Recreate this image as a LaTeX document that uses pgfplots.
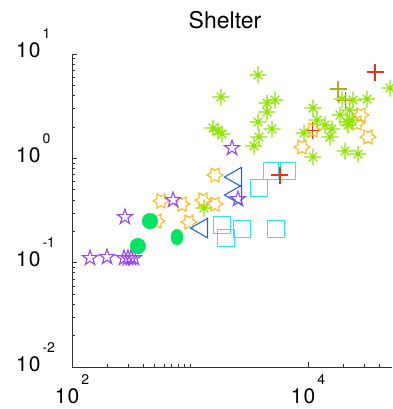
\documentclass[border=0pt]{standalone}
\usepackage{fontspec}
\setmainfont{TeX Gyre Heros}
\usepackage{pgfplots}
\pgfplotsset{compat=1.18}

\definecolor{cPurple}{RGB}{150,70,255}
\definecolor{cGreen}{RGB}{0,230,100}
\definecolor{cOrange}{RGB}{255,185,25}
\definecolor{cBlue}{RGB}{25,100,255}
\definecolor{cCyan}{RGB}{45,230,245}
\definecolor{cLime}{RGB}{140,230,0}
\definecolor{cRed}{RGB}{245,45,20}
\definecolor{cOlive}{RGB}{180,170,30}

% open five-pointed star
\pgfdeclareplotmark{pentagram}{%
  \pgfpathmoveto{\pgfpointpolar{90}{\pgfplotmarksize}}%
  \pgfpathlineto{\pgfpointpolar{126}{0.382\pgfplotmarksize}}%
  \pgfpathlineto{\pgfpointpolar{162}{\pgfplotmarksize}}%
  \pgfpathlineto{\pgfpointpolar{198}{0.382\pgfplotmarksize}}%
  \pgfpathlineto{\pgfpointpolar{234}{\pgfplotmarksize}}%
  \pgfpathlineto{\pgfpointpolar{270}{0.382\pgfplotmarksize}}%
  \pgfpathlineto{\pgfpointpolar{306}{\pgfplotmarksize}}%
  \pgfpathlineto{\pgfpointpolar{342}{0.382\pgfplotmarksize}}%
  \pgfpathlineto{\pgfpointpolar{18}{\pgfplotmarksize}}%
  \pgfpathlineto{\pgfpointpolar{54}{0.382\pgfplotmarksize}}%
  \pgfpathclose\pgfusepathqstroke}
% open six-pointed star
\pgfdeclareplotmark{hexagram}{%
  \pgfpathmoveto{\pgfpointpolar{0}{\pgfplotmarksize}}%
  \pgfpathlineto{\pgfpointpolar{30}{0.577\pgfplotmarksize}}%
  \pgfpathlineto{\pgfpointpolar{60}{\pgfplotmarksize}}%
  \pgfpathlineto{\pgfpointpolar{90}{0.577\pgfplotmarksize}}%
  \pgfpathlineto{\pgfpointpolar{120}{\pgfplotmarksize}}%
  \pgfpathlineto{\pgfpointpolar{150}{0.577\pgfplotmarksize}}%
  \pgfpathlineto{\pgfpointpolar{180}{\pgfplotmarksize}}%
  \pgfpathlineto{\pgfpointpolar{210}{0.577\pgfplotmarksize}}%
  \pgfpathlineto{\pgfpointpolar{240}{\pgfplotmarksize}}%
  \pgfpathlineto{\pgfpointpolar{270}{0.577\pgfplotmarksize}}%
  \pgfpathlineto{\pgfpointpolar{300}{\pgfplotmarksize}}%
  \pgfpathlineto{\pgfpointpolar{330}{0.577\pgfplotmarksize}}%
  \pgfpathclose\pgfusepathqstroke}
% eight-ray asterisk
\pgfdeclareplotmark{star8}{%
  \pgfpathmoveto{\pgfqpoint{-\pgfplotmarksize}{0pt}}\pgfpathlineto{\pgfqpoint{\pgfplotmarksize}{0pt}}%
  \pgfpathmoveto{\pgfqpoint{0pt}{-\pgfplotmarksize}}\pgfpathlineto{\pgfqpoint{0pt}{\pgfplotmarksize}}%
  \pgfpathmoveto{\pgfpointpolar{45}{0.72\pgfplotmarksize}}\pgfpathlineto{\pgfpointpolar{225}{0.72\pgfplotmarksize}}%
  \pgfpathmoveto{\pgfpointpolar{135}{0.72\pgfplotmarksize}}\pgfpathlineto{\pgfpointpolar{315}{0.72\pgfplotmarksize}}%
  \pgfusepathqstroke}
% open triangle pointing left
\pgfdeclareplotmark{tleft}{%
  \pgfpathmoveto{\pgfqpoint{-\pgfplotmarksize}{0pt}}%
  \pgfpathlineto{\pgfqpoint{\pgfplotmarksize}{1.14\pgfplotmarksize}}%
  \pgfpathlineto{\pgfqpoint{\pgfplotmarksize}{-1.14\pgfplotmarksize}}%
  \pgfpathclose\pgfusepathqstroke}
% open square
\pgfdeclareplotmark{box}{%
  \pgfpathrectanglecorners{\pgfqpoint{-\pgfplotmarksize}{-\pgfplotmarksize}}{\pgfqpoint{\pgfplotmarksize}{\pgfplotmarksize}}%
  \pgfusepathqstroke}
% plus sign drawn as its own stroked path
\pgfdeclareplotmark{cross+}{%
  \pgfpathmoveto{\pgfqpoint{-\pgfplotmarksize}{0pt}}\pgfpathlineto{\pgfqpoint{\pgfplotmarksize}{0pt}}%
  \pgfpathmoveto{\pgfqpoint{0pt}{-\pgfplotmarksize}}\pgfpathlineto{\pgfqpoint{0pt}{\pgfplotmarksize}}%
  \pgfusepathqstroke}

% power-of-ten tick label
\newcommand{\pw}[1]{{\fontsize{21}{22}\selectfont 1\kern1pt 0}\kern2pt\raisebox{19pt}{\fontsize{14}{15}\selectfont #1}}

\begin{document}
\begin{tikzpicture}
\path[use as bounding box] (0,0) rectangle (392pt,409pt);
\node[anchor=base, font=\fontsize{23}{25}\selectfont] at (225pt,380pt) {Shelter};
\begin{axis}[
  at={(72pt,42pt)}, anchor=south west,
  scale only axis, width=320pt, height=313pt,
  xmode=log, ymode=log,
  xmin=100, xmax=51520, ymin=0.01, ymax=10,
  axis lines=left,
  axis line style={-, line width=0.8pt, color=black!80},
  tick align=inside,
  major tick length=5pt, minor tick length=3pt,
  every tick/.style={line width=0.6pt, color=black!80},
  xtick={100,10000},
  minor xtick={200,300,400,500,600,700,800,900,1000,20000,30000,40000},
  xticklabels={\pw{2},\pw{4}},
  ytick={0.01,0.1,1,10},
  minor ytick={0.02,0.03,0.04,0.05,0.06,0.07,0.08,0.09,0.2,0.3,0.4,0.5,0.6,0.7,0.8,0.9,2,3,4,5,6,7,8,9},
  yticklabels={\pw{-2},\pw{-1},\pw{0},\pw{1}},
  xticklabel style={anchor=base, inner sep=0pt, yshift=-36pt},
  yticklabel style={anchor=base west, inner sep=0pt, xshift=-56pt, yshift=-4pt},
]
% plus signs lying underneath the dense cluster
\addplot[only marks, mark=cross+, mark size=8.5pt, draw=cRed, line width=1pt] coordinates {
 (11024,1.8672) (20590,3.623)};
% hexagrams
\addplot[only marks, mark=hexagram, mark size=8pt, draw=cOrange, line width=1.1pt] coordinates {
 (525,0.2505) (568,0.3897) (855,0.3645) (980,0.2451) (1289,0.3983)
 (1629,0.6917) (1629,0.3645) (8897,1.2834) (11024,1.8672) (26020,2.180)
 (28130,2.601) (32250,1.6003)};
% asterisks
\addplot[only marks, mark=star8, mark size=8.5pt, draw=cLime, line width=1.2pt] coordinates {
 (3770,6.293) (1831,3.870) (5252,3.623) (4493,3.390) (4493,2.779)
 (3770,2.229) (4955,1.909) (1566,1.952) (1727,1.827) (1867,1.710)
 (3843,1.600) (3486,1.312) (1314,0.3339) (11024,3.036) (11924,2.329)
 (13940,2.086) (15970,1.909) (9250,1.748) (15360,1.600) (11024,1.029)
 (19420,3.703) (24070,3.623) (31620,3.703) (22500,2.90) (18700,2.60)
 (21400,2.23) (23600,2.33) (21830,2.086) (20590,1.175) (26530,1.100)
 (49550,4.721)};
% pentagrams
\addplot[only marks, mark=pentagram, mark size=8pt, draw=cPurple, line width=1.1pt] coordinates {
 (142,0.1107) (198,0.1132) (276,0.1107) (298,0.1107) (316,0.1107)
 (335,0.1107) (281,0.2737) (718,0.3983) (2270,1.255) (2552,0.4072)};
% filled circles
\addplot[only marks, mark=*, mark size=7.8pt, color=cGreen] coordinates {
 (458,0.2505) (362,0.1443)};
\addplot[only marks, mark=*, mark size=7.8pt, color=cGreen, mark options={xscale=0.78}] coordinates {
 (776,0.1759)};
% left triangles
\addplot[only marks, mark=tleft, mark size=8.5pt, draw=cBlue, line width=1.1pt] coordinates {
 (2314,0.6618) (2314,0.4446) (1192,0.2146)};
% squares
\addplot[only marks, mark=box, mark size=8.5pt, draw=cCyan, line width=1.1pt] coordinates {
 (1867,0.2293) (2019,0.1721) (2759,0.2100) (5357,0.2100) (3843,0.5190)
 (6637,0.7557) (4955,0.7557)};
% plus signs on top
\addplot[only marks, mark=cross+, mark size=8.5pt, draw=cRed, line width=1.1pt] coordinates {
 (5790,0.6917) (36970,6.721)};
\addplot[only marks, mark=cross+, mark size=8.5pt, draw=cOlive, line width=1.1pt] coordinates {
 (17960,4.618)};
\end{axis}
\end{tikzpicture}
\end{document}
